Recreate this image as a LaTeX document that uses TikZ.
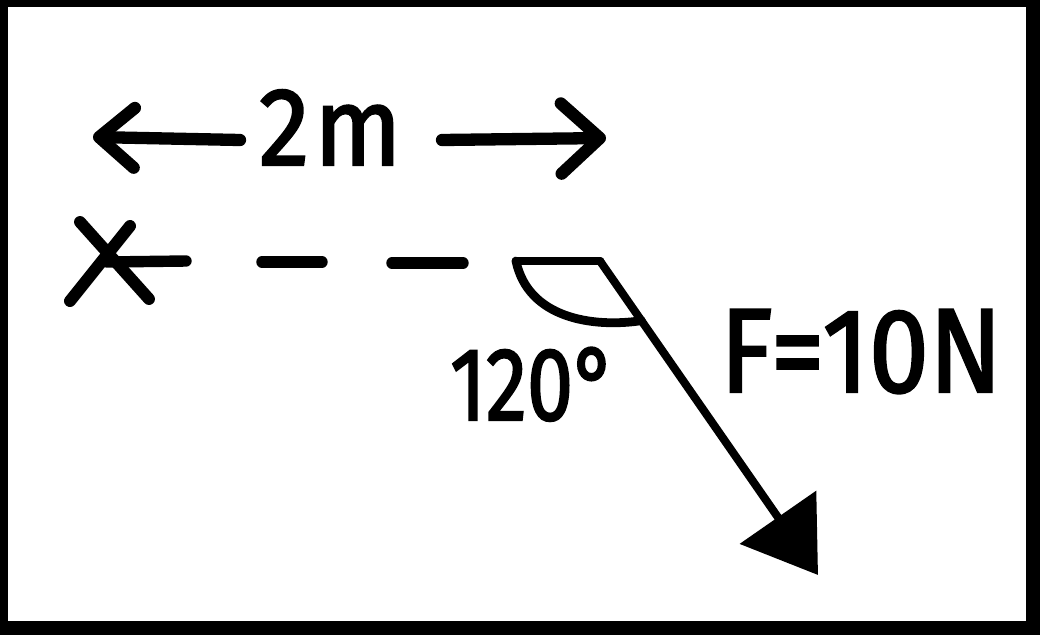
\documentclass[tikz,border=0pt]{standalone}
\usepackage{fontspec}
\setmainfont{Fira Sans}
\newfontfamily\handfont[FakeBold=2]{Fira Sans}
\usetikzlibrary{arrows.meta,calc}
\tikzset{
  ink/.style={line width=#1, line cap=round, line join=round, draw=black},
  hand/.style={inner sep=0pt, outer sep=0pt, text=black, font=\handfont},
}
\begin{document}
\begin{tikzpicture}[x=0.02cm, y=-0.02cm]
% frame
\fill[black] (0,0) rectangle (1040,635);
\fill[white] (8,7) rectangle (1026,621);
\useasboundingbox (0,0) rectangle (1040,635);

% dimension label and arrows
\node[hand, anchor=base west] (dim) at (259,165) {\fontsize{63}{63}\selectfont\scalebox{0.92}[1]{2\kern3pt m}};
\coordinate (dimLs) at (240,140);
\coordinate (dimLe) at (93,137);
\coordinate (dimRs) at (442,140);
\coordinate (dimRe) at (606,138);
\draw[ink=7pt, -{Straight Barb[length=20pt, width=34pt, round]}] (dimLs) -- (dimLe);
\draw[ink=7pt, -{Straight Barb[length=22pt, width=40pt, round]}] (dimRs) -- (dimRe);

% pivot X
\coordinate (xa1) at (80,222);
\coordinate (xa2) at (149,299);
\coordinate (xb1) at (130,226);
\coordinate (xb2) at (70,301);
\draw[ink=6.8pt] (xa1) -- (xa2);
\draw[ink=6.8pt] (xb1) -- (xb2);
\coordinate (pivot) at (107,262);
\coordinate (d0) at (186,261);
\draw[ink=6.5pt] (pivot) -- (d0);

% dashes
\coordinate (d1a) at (262,262);
\coordinate (d1b) at (322,262);
\coordinate (d2a) at (392,263);
\coordinate (d2b) at (463,263);
\draw[ink=6.5pt] (d1a) -- (d1b);
\draw[ink=6.5pt] (d2a) -- (d2b);

% angle marker
\coordinate (pa) at (516,261);
\coordinate (pb) at (600,261);
\coordinate (ftip) at (818,575);
\coordinate (arcend) at ($(pb)!0.19!(ftip)$);
\draw[ink=5pt] (pa) -- (pb);
\draw[ink=5pt] (pa) .. controls (528,318) and (592,328) .. (arcend);

% force arrow
\draw[ink=4.6pt, -{Triangle[length=40pt, width=52pt]}] (pb) -- (ftip);

% labels
\node[hand, anchor=base west] (ang) at (450,420) {\fontsize{59}{59}\selectfont\scalebox{0.8}[1]{120°}};
\node[hand, anchor=base west] (force) at (720,392) {\fontsize{68}{68}\selectfont\scalebox{0.9}[1]{F=10N}};
\end{tikzpicture}
\end{document}
